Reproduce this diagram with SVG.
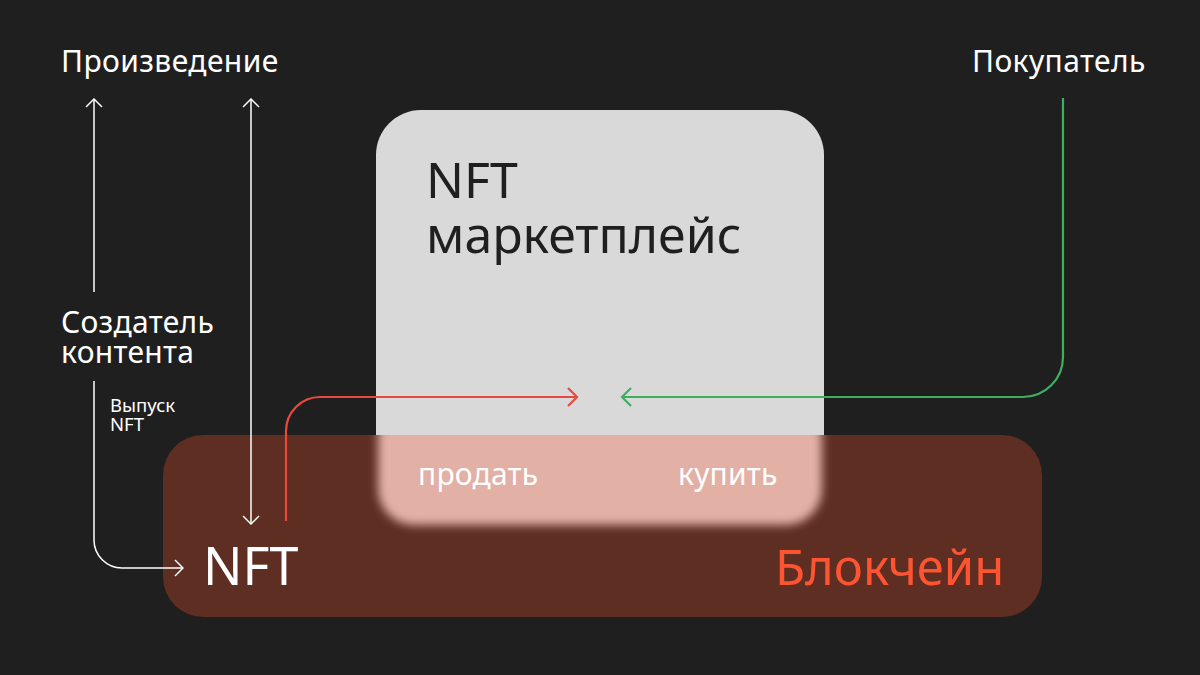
<svg xmlns="http://www.w3.org/2000/svg" width="1200" height="675" viewBox="0 0 1200 675">
<style>
.t{font-family:"Noto Sans","Liberation Sans",sans-serif;fill:#ffffff}
.w{fill:none;stroke:#ffffff;stroke-width:1.5}
</style>
<defs>
<marker id="aw" viewBox="0 0 10 18" refX="9" refY="9" markerWidth="10" markerHeight="18" markerUnits="userSpaceOnUse" orient="auto-start-reverse"><path d="M1,1 L9,9 L1,17" fill="none" stroke="#ffffff" stroke-width="1.5"/></marker>
<marker id="ar" viewBox="0 0 12 20" refX="10" refY="10" markerWidth="12" markerHeight="20" markerUnits="userSpaceOnUse" orient="auto-start-reverse"><path d="M1,1 L10,10 L1,19" fill="none" stroke="#e8493d" stroke-width="2.2"/></marker>
<marker id="ag" viewBox="0 0 12 20" refX="10" refY="10" markerWidth="12" markerHeight="20" markerUnits="userSpaceOnUse" orient="auto-start-reverse"><path d="M1,1 L10,10 L1,19" fill="none" stroke="#3fae5f" stroke-width="2.2"/></marker>
<filter id="bl" x="-10%" y="-20%" width="120%" height="140%"><feGaussianBlur stdDeviation="5"/></filter>
<clipPath id="cb"><rect x="163" y="435" width="879" height="182" rx="40"/></clipPath>
</defs>
<rect width="1200" height="675" fill="#1f1f1f"/>
<g id="blockchain">
<rect x="163" y="435" width="879" height="182" rx="40" fill="#5e2e22"/>
<text class="t" x="775" y="585" font-size="49" style="fill:#ff5432">Блокчейн</text>
</g>
<g id="marketplace">
<g clip-path="url(#cb)"><rect x="378" y="400" width="444" height="125" rx="36" fill="#e2b0a5" filter="url(#bl)"/></g>
<path d="M376,435 V155 A45,45 0 0 1 421,110 H779 A45,45 0 0 1 824,155 V435 Z" fill="#d9d9d9"/>
<text font-size="50" font-family="Noto Sans,Liberation Sans,sans-serif" fill="#1f1f1f"><tspan x="426" y="198">NFT</tspan><tspan x="426" y="253">маркетплейс</tspan></text>
<text class="t" x="418" y="485" font-size="30" letter-spacing="0.2">продать</text>
<text class="t" x="678" y="485" font-size="30" letter-spacing="0.2">купить</text>
</g>
<g id="work"><text class="t" x="61" y="72" font-size="30" letter-spacing="0.4">Произведение</text></g>
<g id="buyer"><text class="t" x="972" y="72" font-size="30" letter-spacing="0.4">Покупатель</text></g>
<g id="creator"><text class="t" font-size="30" letter-spacing="0.3"><tspan x="61" y="333">Создатель</tspan><tspan x="61" y="363">контента</tspan></text></g>
<g id="nft"><text class="t" x="203" y="585" font-size="52">NFT</text></g>
<g id="connectors">
<path class="w" d="M94,292 V99" marker-end="url(#aw)"/>
<path class="w" d="M94,381 V540 A28,28 0 0 0 122,568 H183" marker-end="url(#aw)"/>
<text class="t" font-size="18.5"><tspan x="110" y="412">Выпуск</tspan><tspan x="110" y="431">NFT</tspan></text>
<path class="w" d="M251,99 V524" marker-start="url(#aw)" marker-end="url(#aw)"/>
<path d="M286,521 V431 A34,34 0 0 1 320,397 H577" fill="none" stroke="#e8493d" stroke-width="2.2" marker-end="url(#ar)"/>
<path d="M1063,98 V357 A40,40 0 0 1 1023,397 H622" fill="none" stroke="#3fae5f" stroke-width="2.2" marker-end="url(#ag)"/>
</g>
</svg>
